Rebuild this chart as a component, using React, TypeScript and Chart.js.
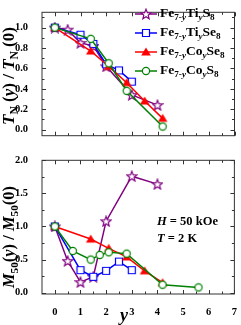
import React, { useEffect, useRef } from "react";
import { Chart, registerables } from "chart.js";

Chart.register(...registerables);

// ---- data ----
const tiS_x = [0, 0.5, 1, 1.5, 2, 3, 4];
const tiS_tn = [1.0, 0.98, 0.85, 0.82, 0.62, 0.34, 0.24];
const tiS_m50 = [1.0, 0.48, 0.16, 0.24, 1.08, 1.76, 1.64];

const tiSe_x = [0, 1, 1.5, 2, 2.5, 3];
const tiSe_tn = [1.0, 0.93, 0.84, 0.64, 0.58, 0.47];
const tiSe_m50 = [1.0, 0.34, 0.24, 0.33, 0.47, 0.34];

const coSe_x = [0, 1.4, 2.1, 2.8, 3.5, 4.2];
const coSe_tn = [1.0, 0.77, 0.62, 0.46, 0.28, 0.11];
const coSe_m50 = [1.0, 0.81, 0.67, 0.54, 0.33, 0.15];

const coS_x_tn = [0, 1.4, 2.1, 2.8, 4.2];
const coS_tn = [1.0, 0.89, 0.65, 0.38, 0.03];
const coS_x_m50 = [0, 0.7, 1.4, 1.75, 2.1, 2.8, 4.2, 5.6];
const coS_m50 = [1.0, 0.63, 0.5, 0.57, 0.61, 0.59, 0.12, 0.08];

const xTicks = [0, 1, 2, 3, 4, 5, 6, 7];
const tnTicks = [0, 0.2, 0.4, 0.6, 0.8, 1.0];
const m50Ticks = [0, 0.5, 1.0, 1.5, 2.0];

const PURPLE = "#800080";
const BLUE = "#0000ff";
const RED = "#ff0000";
const GREEN = "#008000";
const SERIF = "'Liberation Serif', 'Times New Roman', serif";
const FRAME = "#333333";

type Seg = { t: string; i?: boolean; sub?: boolean };

function drawRich(ctx: CanvasRenderingContext2D, segs: Seg[], size: number, x: number, y: number, align: "left" | "center") {
  const subSize = size * 0.68;
  const widths = segs.map((s) => {
    ctx.font = `${s.i ? "italic " : ""}bold ${s.sub ? subSize : size}px ${SERIF}`;
    return ctx.measureText(s.t).width;
  });
  const total = widths.reduce((a, b) => a + b, 0);
  let cx = align === "center" ? x - total / 2 : x;
  ctx.textBaseline = "middle";
  ctx.textAlign = "left";
  segs.forEach((s, k) => {
    ctx.font = `${s.i ? "italic " : ""}bold ${s.sub ? subSize : size}px ${SERIF}`;
    ctx.fillText(s.t, cx, s.sub ? y + size * 0.3 : y);
    cx += widths[k];
  });
}

function makeMarker(kind: string, color: string): HTMLCanvasElement {
  const c = document.createElement("canvas");
  c.width = 12;
  c.height = 12;
  const g = c.getContext("2d")!;
  const cx = 6, cy = 6;
  g.lineWidth = 1.2;
  g.strokeStyle = color;
  g.fillStyle = "#ffffff";
  g.beginPath();
  if (kind === "star") {
    const ro = 5.3, ri = 2.3;
    for (let k = 0; k < 10; k++) {
      const r = k % 2 === 0 ? ro : ri;
      const a = -Math.PI / 2 + (k * Math.PI) / 5;
      const px = cx + r * Math.cos(a), py = cy + 0.5 + r * Math.sin(a);
      if (k === 0) g.moveTo(px, py); else g.lineTo(px, py);
    }
    g.closePath();
    g.fill();
    g.stroke();
  } else if (kind === "rect") {
    g.rect(cx - 3.5, cy - 3.5, 7, 7);
    g.fill();
    g.stroke();
  } else if (kind === "tri") {
    g.fillStyle = color;
    g.moveTo(cx, cy - 4.5);
    g.lineTo(cx + 4.8, cy + 3.5);
    g.lineTo(cx - 4.8, cy + 3.5);
    g.closePath();
    g.fill();
  } else {
    g.arc(cx, cy, 3.6, 0, Math.PI * 2);
    g.fill();
    g.stroke();
  }
  return c;
}

function framePlugin(id: string, yMinor: number, extra: (ctx: CanvasRenderingContext2D, chart: any) => void) {
  return {
    id,
    afterDraw(chart: any) {
      const ctx = chart.ctx as CanvasRenderingContext2D;
      const a = chart.chartArea;
      const xs = chart.scales.x;
      const ys = chart.scales.y;
      ctx.save();
      ctx.strokeStyle = FRAME;
      ctx.lineWidth = 1;
      ctx.strokeRect(a.left, a.top, a.right - a.left, a.bottom - a.top);
      ctx.beginPath();
      for (let v = 0; v <= 7.001; v += 0.5) {
        const px = Math.round(xs.getPixelForValue(v)) + 0.5;
        const len = Math.abs(v - Math.round(v)) < 1e-6 ? 4 : 2.5;
        ctx.moveTo(px, a.bottom);
        ctx.lineTo(px, a.bottom - len);
        ctx.moveTo(px, a.top);
        ctx.lineTo(px, a.top + len);
      }
      for (let k = 0; ; k++) {
        const v = k * yMinor;
        if (v > ys.max) break;
        const py = Math.round(ys.getPixelForValue(v)) + 0.5;
        const len = k % 2 === 0 ? 4 : 2.5;
        ctx.moveTo(a.left, py);
        ctx.lineTo(a.left + len, py);
        ctx.moveTo(a.right, py);
        ctx.lineTo(a.right - len, py);
      }
      ctx.stroke();
      ctx.fillStyle = "#000";
      extra(ctx, chart);
      ctx.restore();
    },
  };
}

function pts(xs: number[], ys: number[]) {
  return xs.map((x, k) => ({ x, y: ys[k] }));
}

export default function App() {
  const topRef = useRef<HTMLCanvasElement>(null);
  const botRef = useRef<HTMLCanvasElement>(null);

  useEffect(() => {
    const mStar = makeMarker("star", PURPLE);
    const mRect = makeMarker("rect", BLUE);
    const mTri = makeMarker("tri", RED);
    const mCirc = makeMarker("circ", GREEN);

    const ds = (label: string, data: any[], color: string, marker: HTMLCanvasElement, order: number) => ({
      label,
      data,
      showLine: true,
      borderColor: color,
      backgroundColor: color,
      borderWidth: 1.5,
      pointStyle: marker,
      pointRadius: 5,
      order,
    });

    const tickFont = { family: SERIF, size: 10.5, weight: "bold" as const };

    const legendItems = [
      { marker: mStar, color: PURPLE, segs: [{ t: "Fe" }, { t: "7-", sub: true }, { t: "y", sub: true, i: true }, { t: "Ti" }, { t: "y", sub: true, i: true }, { t: "S" }, { t: "8", sub: true }] },
      { marker: mRect, color: BLUE, segs: [{ t: "Fe" }, { t: "7-", sub: true }, { t: "y", sub: true, i: true }, { t: "Ti" }, { t: "y", sub: true, i: true }, { t: "Se" }, { t: "8", sub: true }] },
      { marker: mTri, color: RED, segs: [{ t: "Fe" }, { t: "7-", sub: true }, { t: "y", sub: true, i: true }, { t: "Co" }, { t: "y", sub: true, i: true }, { t: "Se" }, { t: "8", sub: true }] },
      { marker: mCirc, color: GREEN, segs: [{ t: "Fe" }, { t: "7-", sub: true }, { t: "y", sub: true, i: true }, { t: "Co" }, { t: "y", sub: true, i: true }, { t: "S" }, { t: "8", sub: true }] },
    ];

    const topExtra = (ctx: CanvasRenderingContext2D) => {
      ctx.save();
      ctx.translate(10, 76);
      ctx.rotate(-Math.PI / 2);
      drawRich(ctx, [{ t: "T", i: true }, { t: "N", sub: true }, { t: " (" }, { t: "y", i: true }, { t: ") / " }, { t: "T", i: true }, { t: "N", sub: true }, { t: " (0)" }], 17, 0, 0, "center");
      ctx.restore();
      legendItems.forEach((it, k) => {
        const y = 14 + k * 19;
        ctx.strokeStyle = it.color;
        ctx.lineWidth = 1.5;
        ctx.beginPath();
        ctx.moveTo(135, y);
        ctx.lineTo(157, y);
        ctx.stroke();
        ctx.drawImage(it.marker, 146 - 6, y - 6);
        ctx.fillStyle = "#000";
        drawRich(ctx, it.segs, 13.5, 160, y, "left");
      });
    };

    const botExtra = (ctx: CanvasRenderingContext2D) => {
      ctx.save();
      ctx.translate(10, 89);
      ctx.rotate(-Math.PI / 2);
      drawRich(ctx, [{ t: "M", i: true }, { t: "50", sub: true }, { t: "(" }, { t: "y", i: true }, { t: ") / " }, { t: "M", i: true }, { t: "50", sub: true }, { t: "(0)" }], 16.5, 0, 0, "center");
      ctx.restore();
      drawRich(ctx, [{ t: "y", i: true }], 18, 124, 168, "center");
      drawRich(ctx, [{ t: "H", i: true }, { t: " = 50 kOe" }], 12.5, 157, 74, "left");
      drawRich(ctx, [{ t: "T", i: true }, { t: " = 2 K" }], 12.5, 157, 91, "left");
    };

    const top = new Chart(topRef.current!, {
      type: "scatter",
      data: {
        datasets: [
          ds("Fe7-yTiyS8", pts(tiS_x, tiS_tn), PURPLE, mStar, 4),
          ds("Fe7-yTiySe8", pts(tiSe_x, tiSe_tn), BLUE, mRect, 3),
          ds("Fe7-yCoySe8", pts(coSe_x, coSe_tn), RED, mTri, 2),
          ds("Fe7-yCoyS8", pts(coS_x_tn, coS_tn), GREEN, mCirc, 1),
        ],
      },
      options: {
        animation: false,
        responsive: false,
        devicePixelRatio: 1,
        layout: { padding: { top: 1, right: 4.5, bottom: 4, left: 0 } },
        plugins: { legend: { display: false }, tooltip: { enabled: false } },
        scales: {
          x: { type: "linear", min: -0.5, max: 7, display: false },
          y: {
            type: "linear",
            min: -0.06,
            max: 1.15,
            afterFit: (s: any) => { s.width = 42; },
            afterBuildTicks: (s: any) => { s.ticks = tnTicks.map((v) => ({ value: v })); },
            grid: { display: false },
            border: { display: false },
            ticks: { font: tickFont, color: "#000", padding: 6, callback: (v: any) => Number(v).toFixed(1) },
          },
        },
      },
      plugins: [framePlugin("frameTop", 0.1, topExtra)],
    } as any);

    const bot = new Chart(botRef.current!, {
      type: "scatter",
      data: {
        datasets: [
          ds("Fe7-yTiyS8", pts(tiS_x, tiS_m50), PURPLE, mStar, 4),
          ds("Fe7-yTiySe8", pts(tiSe_x, tiSe_m50), BLUE, mRect, 3),
          ds("Fe7-yCoySe8", pts(coSe_x, coSe_m50), RED, mTri, 2),
          ds("Fe7-yCoyS8", pts(coS_x_m50, coS_m50), GREEN, mCirc, 1),
        ],
      },
      options: {
        animation: false,
        responsive: false,
        devicePixelRatio: 1,
        layout: { padding: { top: 2, right: 4.5, bottom: 0, left: 0 } },
        plugins: { legend: { display: false }, tooltip: { enabled: false } },
        scales: {
          x: {
            type: "linear",
            min: -0.5,
            max: 7,
            afterFit: (s: any) => { s.height = 31; },
            afterBuildTicks: (s: any) => { s.ticks = xTicks.map((v) => ({ value: v })); },
            grid: { display: false },
            border: { display: false },
            ticks: { font: tickFont, color: "#000", padding: 4, maxRotation: 0 },
          },
          y: {
            type: "linear",
            min: -0.02,
            max: 2.0,
            afterFit: (s: any) => { s.width = 42; },
            afterBuildTicks: (s: any) => { s.ticks = m50Ticks.map((v) => ({ value: v })); },
            grid: { display: false },
            border: { display: false },
            ticks: { font: tickFont, color: "#000", padding: 6, callback: (v: any) => Number(v).toFixed(1) },
          },
        },
      },
      plugins: [framePlugin("frameBot", 0.25, botExtra)],
    } as any);

    return () => {
      top.destroy();
      bot.destroy();
    };
  }, []);

  return (
    <div style={{ position: "absolute", left: 0, top: 0, width: 241, height: 325, background: "#fff" }}>
      <canvas ref={topRef} width={241} height={148} style={{ position: "absolute", left: 0, top: 0, width: 241, height: 148 }} />
      <canvas ref={botRef} width={241} height={177} style={{ position: "absolute", left: 0, top: 148, width: 241, height: 177 }} />
    </div>
  );
}
